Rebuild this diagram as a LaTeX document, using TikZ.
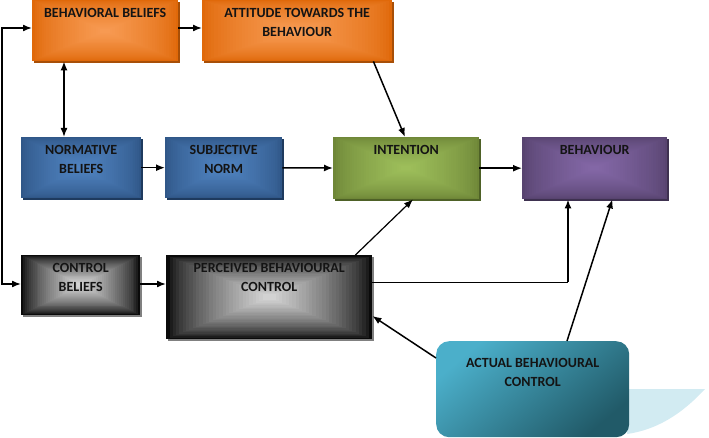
\documentclass[tikz,border=0pt]{standalone}
\usepackage{fontspec}
\setmainfont{Carlito}
\usepackage{xcolor}
\usepackage{tikz}
\usetikzlibrary{arrows.meta,shadows,positioning,calc}

\definecolor{orD}{HTML}{E0690A}
\definecolor{orL}{HTML}{F79A52}
\definecolor{orS}{HTML}{A84F07}
\definecolor{blD}{HTML}{305788}
\definecolor{blL}{HTML}{4F82BF}
\definecolor{blS}{HTML}{1E3A5E}
\definecolor{grD}{HTML}{6F8738}
\definecolor{grL}{HTML}{9DBE5A}
\definecolor{grS}{HTML}{4E6127}
\definecolor{puD}{HTML}{584470}
\definecolor{puL}{HTML}{8367A6}
\definecolor{puS}{HTML}{3E3150}
\definecolor{bkD}{HTML}{0A0A0A}
\definecolor{bkL}{HTML}{D2D2D2}
\definecolor{bkS}{HTML}{808080}
\definecolor{teA}{HTML}{4BAFCA}
\definecolor{teB}{HTML}{215A68}
\definecolor{teS}{HTML}{D2EBF2}
\definecolor{txt}{HTML}{141414}

\tikzset{
  % nested rectangles from the edge (#2) to the middle (#1)
  glow/.style 2 args={path picture={
    \foreach \k in {0,...,29}{
      \pgfmathtruncatemacro\p{100*(\k/29)^0.7}
      \fill[#1!\p!#2]
        ($(path picture bounding box.north west)!\k/62!(path picture bounding box.south east)$)
        rectangle
        ($(path picture bounding box.south east)!\k/62!(path picture bounding box.north west)$);
    }}},
  box/.style={anchor=north west, inner sep=0pt, minimum height=61pt},
  boxtext/.style={anchor=north, align=center, inner sep=0pt, yshift=-8pt,
    font=\bfseries\fontsize{14}{19.5}\selectfont, text=txt},
  orangebox/.style={box, glow={orL}{orD},
    drop shadow={shadow xshift=2pt, shadow yshift=-2pt, opacity=1, fill=orS}},
  bluebox/.style={box, glow={blL}{blD},
    drop shadow={shadow xshift=2pt, shadow yshift=-2pt, opacity=1, fill=blS}},
  greenbox/.style={box, glow={grL}{grD},
    drop shadow={shadow xshift=2pt, shadow yshift=-2pt, opacity=1, fill=grS}},
  purplebox/.style={box, glow={puL}{puD},
    drop shadow={shadow xshift=2pt, shadow yshift=-2pt, opacity=1, fill=puS}},
  blackbox/.style={box, glow={bkL}{bkD},
    drop shadow={shadow xshift=2pt, shadow yshift=-2pt, opacity=1, fill=bkS}},
  link/.style={line width=1.5pt, >={Latex[length=9pt,width=7pt]}},
}

\begin{document}
\begin{tikzpicture}[x=1pt, y=-1pt]
	\useasboundingbox (0,0) rectangle (709,438);

	% shadow of the rounded box
	\fill[teS] (629,389) -- (705,389) .. controls (680,416) and (655,430) .. (627,434) -- cycle;

	% boxes
	\node[orangebox, minimum width=146pt, label={[boxtext, name=bbt]north:BEHAVIORAL BELIEFS}] (bb) at (32,0) {};
	\node[orangebox, minimum width=190pt, label={[boxtext, name=attt]north:{ATTITUDE TOWARDS THE\\BEHAVIOUR}}] (att) at (202,0) {};

	\node[bluebox, minimum width=120pt, label={[boxtext, name=nbt]north:{NORMATIVE\\BELIEFS}}] (nb) at (21,137) {};
	\node[bluebox, minimum width=117pt, label={[boxtext, name=snt]north:{SUBJECTIVE\\NORM}}] (sn) at (165,137) {};
	\node[greenbox, minimum width=146pt, minimum height=62pt, label={[boxtext, name=intt]north:INTENTION}] (int) at (333,137) {};
	\node[purplebox, minimum width=145pt, minimum height=62pt, label={[boxtext, name=beht]north:BEHAVIOUR}] (beh) at (522,137) {};

	\node[blackbox, minimum width=119pt, minimum height=60pt, label={[boxtext, name=cbt]north:{CONTROL\\BELIEFS}}] (cb) at (21,255) {};
	\node[blackbox, minimum width=206pt, minimum height=84pt, label={[boxtext, name=pbct]north:{PERCEIVED BEHAVIOURAL\\CONTROL}}] (pbc) at (166,255) {};

	\node[anchor=north west, inner sep=0pt, minimum width=193pt, minimum height=96pt, rounded corners=13pt,
		top color=teA, bottom color=teB, shading angle=40,
		label={[boxtext, yshift=-9pt, name=abct]north:{ACTUAL BEHAVIOURAL\\CONTROL}}] (abc) at (436,341) {};

	% connectors
	\coordinate (top) at (2,28);
	\coordinate (bot) at (2,284);
	\coordinate (nbx) at (64,0);
	\coordinate (bend) at (568,282);

	\draw[link, <->] (bb.west |- top) -- (top) -- (bot) -- (cb.west |- bot);
	\draw[link, ->] (bb.east |- top) -- (att.west |- top);
	\draw[link, <->] (nbx |- bb.south) -- (nbx |- nb.north);
	\draw[link, ->] ([xshift=-19pt]att.south east) -- ([xshift=72pt]int.north west);

	\draw[link, ->] (nb) -- (sn);
	\draw[link, ->] (sn) -- (int);
	\draw[link, ->] (int) -- (beh);

	\draw[link, ->] (cb.east |- bot) -- (pbc.west |- bot);
	\draw[link, ->, line width=1.2pt] ([xshift=-17pt]pbc.north east) -- ([xshift=80pt]int.south west);
	\draw[line width=1pt] (pbc.east |- bend) -- (bend);
	\draw[link, ->, line width=2.2pt] (bend) -- (bend |- beh.south);

	\draw[link, ->] ([yshift=-17pt]abc.north west) -- ([yshift=-61pt]pbc.north east);
	\draw[link, ->] ([xshift=131pt]abc.north west) -- ([xshift=-55pt]beh.south east);

\end{tikzpicture}
\end{document}
